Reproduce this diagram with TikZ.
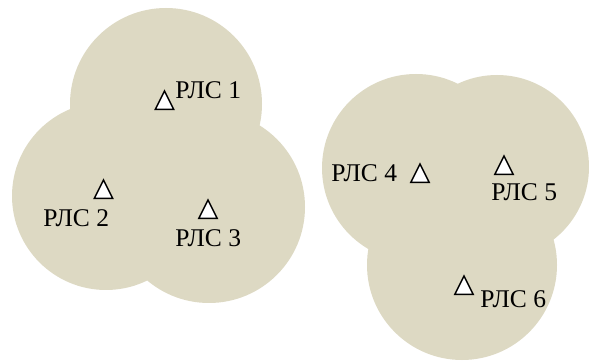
\documentclass[tikz,border=0pt]{standalone}
\usepackage{fontspec}
\setmainfont{Liberation Serif}
\usepackage{xcolor}
\definecolor{zonecolor}{HTML}{DDD9C3}
\usetikzlibrary{positioning,shapes.geometric}

\begin{document}
\begin{tikzpicture}[x=1pt,y=-1pt,thick,
      zone/.style={fill=zonecolor},
      station/.style={isosceles triangle, shape border rotate=90, isosceles triangle stretches,
        draw, fill=white, line width=1.5pt, inner sep=0pt, minimum width=18.5pt, minimum height=18.5pt, anchor=apex},
      rlsname/.style={inner sep=0pt, anchor=base west, font=\fontsize{25.5}{30}\selectfont}]
    \useasboundingbox (0,0) rectangle (589,363);

    % coverage zones
    \fill[zone] (166,104) circle[radius=96pt];
    \fill[zone] (106,196) circle[radius=94pt];
    \fill[zone] (209,207) circle[radius=96pt];
    \fill[zone] (416,168) circle[radius=94pt];
    \fill[zone] (497,167) circle[radius=92pt];
    \fill[zone] (462,265) circle[radius=95pt];

    % stations
    \node[station] (t1) at (164.5,89) {};
    \node[station] (t2) at (103.5,178) {};
    \node[station] (t3) at (208,198) {};
    \node[station] (t4) at (420,162) {};
    \node[station] (t5) at (504,154) {};
    \node[station] (t6) at (464,274) {};

    \node[rlsname] (l1) at (175,99) {РЛС 1};
    \node[rlsname] (l2) at (43,227) {РЛС 2};
    \node[rlsname] (l3) at (175,247) {РЛС 3};
    \node[rlsname] (l4) at (331,182) {РЛС 4};
    \node[rlsname] (l5) at (491,201) {РЛС 5};
    \node[rlsname] (l6) at (480,308) {РЛС 6};
\end{tikzpicture}
\end{document}
